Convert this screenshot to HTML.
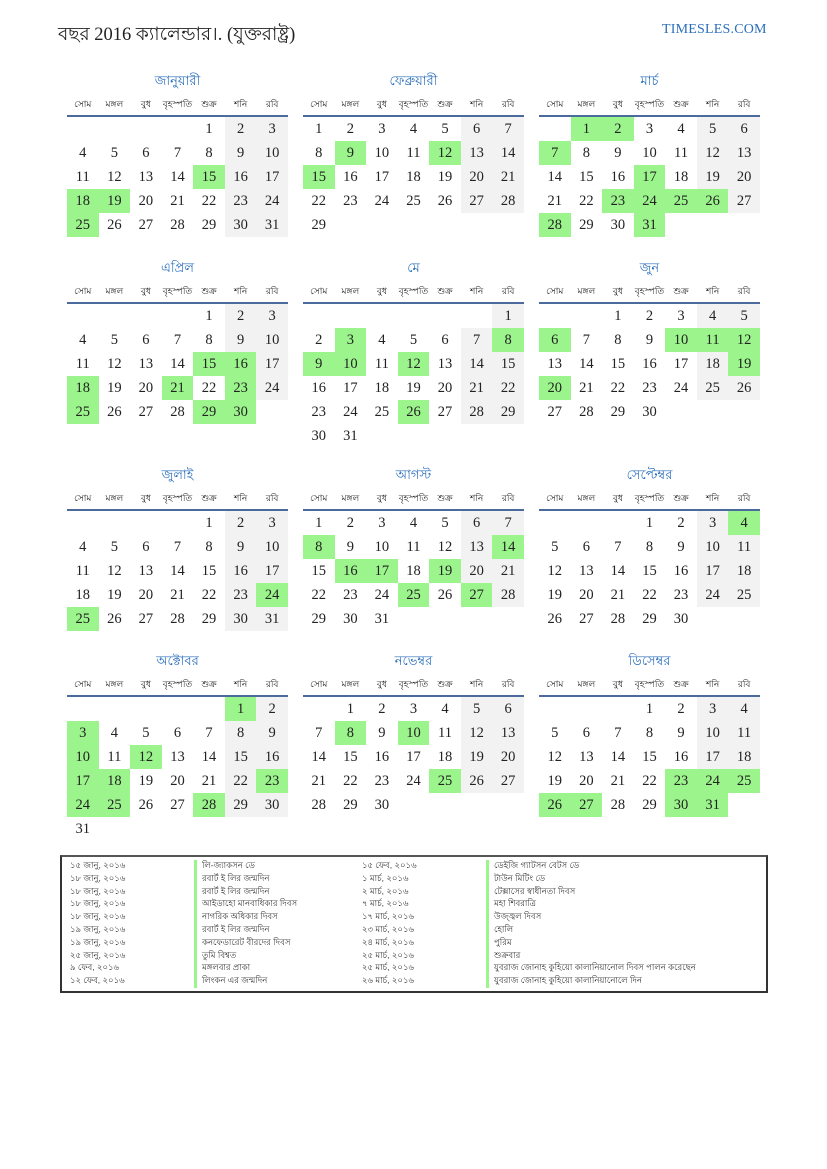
<!DOCTYPE html>
<html><head><meta charset="utf-8">
<style>
*{margin:0;padding:0;box-sizing:border-box}
body{width:827px;height:1169px;background:#fff;position:relative;font-family:"Liberation Serif",serif;color:#222;overflow:hidden}
.h1{position:absolute;left:58px;top:20px;font-size:18.5px;font-family:"Liberation Serif","Noto Serif CJK SC",serif;color:#222;white-space:nowrap}
.site{position:absolute;left:662px;top:22px;font-size:14px;color:#2a6ebb;letter-spacing:0.2px}
.m{position:absolute;width:221px}
.t{position:absolute;left:0;width:221px;top:-45px;text-align:center;color:#2a6ebb;font-size:13px;font-family:"Liberation Sans",sans-serif}
.hd{position:absolute;left:0;top:-20px;width:221px;display:grid;grid-template-columns:repeat(7,31.57px);font-size:9px;text-align:center;font-family:"Liberation Sans",sans-serif;color:#222}
.ln{position:absolute;left:0;top:-2px;width:221px;height:2px;background:#4a6b9c}
.g7{position:absolute;left:0;top:0;width:221px;display:grid;grid-template-columns:repeat(7,31.57px);grid-auto-rows:24px;font-size:14.5px;text-align:center;line-height:24px}
.g7 i{font-style:normal;display:block}
.g7 i:nth-child(7n+6):not(:empty),.g7 i:nth-child(7n):not(:empty){background:#f2f2f2}
.g7 i.g{background:#9cf58c!important}
.lg{position:absolute;left:60px;top:855px;width:708px;height:138px;border:2px solid #333;border-top-color:#555}
.r{position:absolute;font-size:8.5px;color:#333;font-family:"Liberation Sans",sans-serif;white-space:nowrap;line-height:12.8px}
.bar{position:absolute;width:3px;background:#9cf58c}
</style></head><body>
<div class="h1">বছর 2016 ক্যালেন্ডার।. (যুক্তরাষ্ট্র)</div>
<div class="site">TIMESLES.COM</div>

<div class="m" style="left:67px;top:117px"><div class="t">জানুয়ারী</div><div class="hd"><span>সোম</span><span>মঙ্গল</span><span>বুধ</span><span>বৃহস্পতি</span><span>শুক্র</span><span>শনি</span><span>রবি</span></div><div class="ln"></div>
<div class="g7"><i></i><i></i><i></i><i></i><i>1</i><i>2</i><i>3</i><i>4</i><i>5</i><i>6</i><i>7</i><i>8</i><i>9</i><i>10</i><i>11</i><i>12</i><i>13</i><i>14</i><i class="g">15</i><i>16</i><i>17</i><i class="g">18</i><i class="g">19</i><i>20</i><i>21</i><i>22</i><i>23</i><i>24</i><i class="g">25</i><i>26</i><i>27</i><i>28</i><i>29</i><i>30</i><i>31</i></div></div>

<div class="m" style="left:303px;top:117px"><div class="t">ফেব্রুয়ারী</div><div class="hd"><span>সোম</span><span>মঙ্গল</span><span>বুধ</span><span>বৃহস্পতি</span><span>শুক্র</span><span>শনি</span><span>রবি</span></div><div class="ln"></div>
<div class="g7"><i>1</i><i>2</i><i>3</i><i>4</i><i>5</i><i>6</i><i>7</i><i>8</i><i class="g">9</i><i>10</i><i>11</i><i class="g">12</i><i>13</i><i>14</i><i class="g">15</i><i>16</i><i>17</i><i>18</i><i>19</i><i>20</i><i>21</i><i>22</i><i>23</i><i>24</i><i>25</i><i>26</i><i>27</i><i>28</i><i>29</i></div></div>

<div class="m" style="left:539px;top:117px"><div class="t">মার্চ</div><div class="hd"><span>সোম</span><span>মঙ্গল</span><span>বুধ</span><span>বৃহস্পতি</span><span>শুক্র</span><span>শনি</span><span>রবি</span></div><div class="ln"></div>
<div class="g7"><i></i><i class="g">1</i><i class="g">2</i><i>3</i><i>4</i><i>5</i><i>6</i><i class="g">7</i><i>8</i><i>9</i><i>10</i><i>11</i><i>12</i><i>13</i><i>14</i><i>15</i><i>16</i><i class="g">17</i><i>18</i><i>19</i><i>20</i><i>21</i><i>22</i><i class="g">23</i><i class="g">24</i><i class="g">25</i><i class="g">26</i><i>27</i><i class="g">28</i><i>29</i><i>30</i><i class="g">31</i></div></div>

<div class="m" style="left:67px;top:304px"><div class="t">এপ্রিল</div><div class="hd"><span>সোম</span><span>মঙ্গল</span><span>বুধ</span><span>বৃহস্পতি</span><span>শুক্র</span><span>শনি</span><span>রবি</span></div><div class="ln"></div>
<div class="g7"><i></i><i></i><i></i><i></i><i>1</i><i>2</i><i>3</i><i>4</i><i>5</i><i>6</i><i>7</i><i>8</i><i>9</i><i>10</i><i>11</i><i>12</i><i>13</i><i>14</i><i class="g">15</i><i class="g">16</i><i>17</i><i class="g">18</i><i>19</i><i>20</i><i class="g">21</i><i>22</i><i class="g">23</i><i>24</i><i class="g">25</i><i>26</i><i>27</i><i>28</i><i class="g">29</i><i class="g">30</i></div></div>

<div class="m" style="left:303px;top:304px"><div class="t">মে</div><div class="hd"><span>সোম</span><span>মঙ্গল</span><span>বুধ</span><span>বৃহস্পতি</span><span>শুক্র</span><span>শনি</span><span>রবি</span></div><div class="ln"></div>
<div class="g7"><i></i><i></i><i></i><i></i><i></i><i></i><i>1</i><i>2</i><i class="g">3</i><i>4</i><i>5</i><i>6</i><i>7</i><i class="g">8</i><i class="g">9</i><i class="g">10</i><i>11</i><i class="g">12</i><i>13</i><i>14</i><i>15</i><i>16</i><i>17</i><i>18</i><i>19</i><i>20</i><i>21</i><i>22</i><i>23</i><i>24</i><i>25</i><i class="g">26</i><i>27</i><i>28</i><i>29</i><i>30</i><i>31</i></div></div>

<div class="m" style="left:539px;top:304px"><div class="t">জুন</div><div class="hd"><span>সোম</span><span>মঙ্গল</span><span>বুধ</span><span>বৃহস্পতি</span><span>শুক্র</span><span>শনি</span><span>রবি</span></div><div class="ln"></div>
<div class="g7"><i></i><i></i><i>1</i><i>2</i><i>3</i><i>4</i><i>5</i><i class="g">6</i><i>7</i><i>8</i><i>9</i><i class="g">10</i><i class="g">11</i><i class="g">12</i><i>13</i><i>14</i><i>15</i><i>16</i><i>17</i><i>18</i><i class="g">19</i><i class="g">20</i><i>21</i><i>22</i><i>23</i><i>24</i><i>25</i><i>26</i><i>27</i><i>28</i><i>29</i><i>30</i></div></div>

<div class="m" style="left:67px;top:511px"><div class="t">জুলাই</div><div class="hd"><span>সোম</span><span>মঙ্গল</span><span>বুধ</span><span>বৃহস্পতি</span><span>শুক্র</span><span>শনি</span><span>রবি</span></div><div class="ln"></div>
<div class="g7"><i></i><i></i><i></i><i></i><i>1</i><i>2</i><i>3</i><i>4</i><i>5</i><i>6</i><i>7</i><i>8</i><i>9</i><i>10</i><i>11</i><i>12</i><i>13</i><i>14</i><i>15</i><i>16</i><i>17</i><i>18</i><i>19</i><i>20</i><i>21</i><i>22</i><i>23</i><i class="g">24</i><i class="g">25</i><i>26</i><i>27</i><i>28</i><i>29</i><i>30</i><i>31</i></div></div>

<div class="m" style="left:303px;top:511px"><div class="t">আগস্ট</div><div class="hd"><span>সোম</span><span>মঙ্গল</span><span>বুধ</span><span>বৃহস্পতি</span><span>শুক্র</span><span>শনি</span><span>রবি</span></div><div class="ln"></div>
<div class="g7"><i>1</i><i>2</i><i>3</i><i>4</i><i>5</i><i>6</i><i>7</i><i class="g">8</i><i>9</i><i>10</i><i>11</i><i>12</i><i>13</i><i class="g">14</i><i>15</i><i class="g">16</i><i class="g">17</i><i>18</i><i class="g">19</i><i>20</i><i>21</i><i>22</i><i>23</i><i>24</i><i class="g">25</i><i>26</i><i class="g">27</i><i>28</i><i>29</i><i>30</i><i>31</i></div></div>

<div class="m" style="left:539px;top:511px"><div class="t">সেপ্টেম্বর</div><div class="hd"><span>সোম</span><span>মঙ্গল</span><span>বুধ</span><span>বৃহস্পতি</span><span>শুক্র</span><span>শনি</span><span>রবি</span></div><div class="ln"></div>
<div class="g7"><i></i><i></i><i></i><i>1</i><i>2</i><i>3</i><i class="g">4</i><i>5</i><i>6</i><i>7</i><i>8</i><i>9</i><i>10</i><i>11</i><i>12</i><i>13</i><i>14</i><i>15</i><i>16</i><i>17</i><i>18</i><i>19</i><i>20</i><i>21</i><i>22</i><i>23</i><i>24</i><i>25</i><i>26</i><i>27</i><i>28</i><i>29</i><i>30</i></div></div>

<div class="m" style="left:67px;top:697px"><div class="t">অক্টোবর</div><div class="hd"><span>সোম</span><span>মঙ্গল</span><span>বুধ</span><span>বৃহস্পতি</span><span>শুক্র</span><span>শনি</span><span>রবি</span></div><div class="ln"></div>
<div class="g7"><i></i><i></i><i></i><i></i><i></i><i class="g">1</i><i>2</i><i class="g">3</i><i>4</i><i>5</i><i>6</i><i>7</i><i>8</i><i>9</i><i class="g">10</i><i>11</i><i class="g">12</i><i>13</i><i>14</i><i>15</i><i>16</i><i class="g">17</i><i class="g">18</i><i>19</i><i>20</i><i>21</i><i>22</i><i class="g">23</i><i class="g">24</i><i class="g">25</i><i>26</i><i>27</i><i class="g">28</i><i>29</i><i>30</i><i>31</i></div></div>

<div class="m" style="left:303px;top:697px"><div class="t">নভেম্বর</div><div class="hd"><span>সোম</span><span>মঙ্গল</span><span>বুধ</span><span>বৃহস্পতি</span><span>শুক্র</span><span>শনি</span><span>রবি</span></div><div class="ln"></div>
<div class="g7"><i></i><i>1</i><i>2</i><i>3</i><i>4</i><i>5</i><i>6</i><i>7</i><i class="g">8</i><i>9</i><i class="g">10</i><i>11</i><i>12</i><i>13</i><i>14</i><i>15</i><i>16</i><i>17</i><i>18</i><i>19</i><i>20</i><i>21</i><i>22</i><i>23</i><i>24</i><i class="g">25</i><i>26</i><i>27</i><i>28</i><i>29</i><i>30</i></div></div>

<div class="m" style="left:539px;top:697px"><div class="t">ডিসেম্বর</div><div class="hd"><span>সোম</span><span>মঙ্গল</span><span>বুধ</span><span>বৃহস্পতি</span><span>শুক্র</span><span>শনি</span><span>রবি</span></div><div class="ln"></div>
<div class="g7"><i></i><i></i><i></i><i>1</i><i>2</i><i>3</i><i>4</i><i>5</i><i>6</i><i>7</i><i>8</i><i>9</i><i>10</i><i>11</i><i>12</i><i>13</i><i>14</i><i>15</i><i>16</i><i>17</i><i>18</i><i>19</i><i>20</i><i>21</i><i>22</i><i class="g">23</i><i class="g">24</i><i class="g">25</i><i class="g">26</i><i class="g">27</i><i>28</i><i>29</i><i class="g">30</i><i class="g">31</i></div></div>

<div class="lg"></div>
<div class="bar" style="left:194px;top:860px;height:128px"></div>
<div class="bar" style="left:486px;top:860px;height:128px"></div>
<div class="r" style="left:70px;top:859px">১৫ জানু, ২০১৬<br>১৮ জানু, ২০১৬<br>১৮ জানু, ২০১৬<br>১৮ জানু, ২০১৬<br>১৮ জানু, ২০১৬<br>১৯ জানু, ২০১৬<br>১৯ জানু, ২০১৬<br>২৫ জানু, ২০১৬<br>৯ ফেব, ২০১৬<br>১২ ফেব, ২০১৬</div>
<div class="r" style="left:202px;top:859px">লি-জ্যাকসন ডে<br>রবার্ট ই লির জন্মদিন<br>রবার্ট ই লির জন্মদিন<br>আইডাহো মানবাধিকার দিবস<br>নাগরিক অধিকার দিবস<br>রবার্ট ই লির জন্মদিন<br>কনফেডারেট বীরদের দিবস<br>তুমি বিশ্বত<br>মঙ্গলবার প্রাকা<br>লিংকন এর জন্মদিন</div>
<div class="r" style="left:362px;top:859px">১৫ ফেব, ২০১৬<br>১ মার্চ, ২০১৬<br>২ মার্চ, ২০১৬<br>৭ মার্চ, ২০১৬<br>১৭ মার্চ, ২০১৬<br>২৩ মার্চ, ২০১৬<br>২৪ মার্চ, ২০১৬<br>২৫ মার্চ, ২০১৬<br>২৫ মার্চ, ২০১৬<br>২৬ মার্চ, ২০১৬</div>
<div class="r" style="left:494px;top:859px">ডেইজি গ্যাটসন বেটস ডে<br>টাউন মিটিং ডে<br>টেক্সাসের স্বাধীনতা দিবস<br>মহা শিবরাত্রি<br>উজ্জ্বল দিবস<br>হোলি<br>পুরিম<br>শুক্রবার<br>যুবরাজ জোনাহ কুহিয়ো কালানিয়ানোল দিবস পালন করেছেন<br>যুবরাজ জোনাহ কুহিয়ো কালানিয়ানোলে দিন</div>
</body></html>
